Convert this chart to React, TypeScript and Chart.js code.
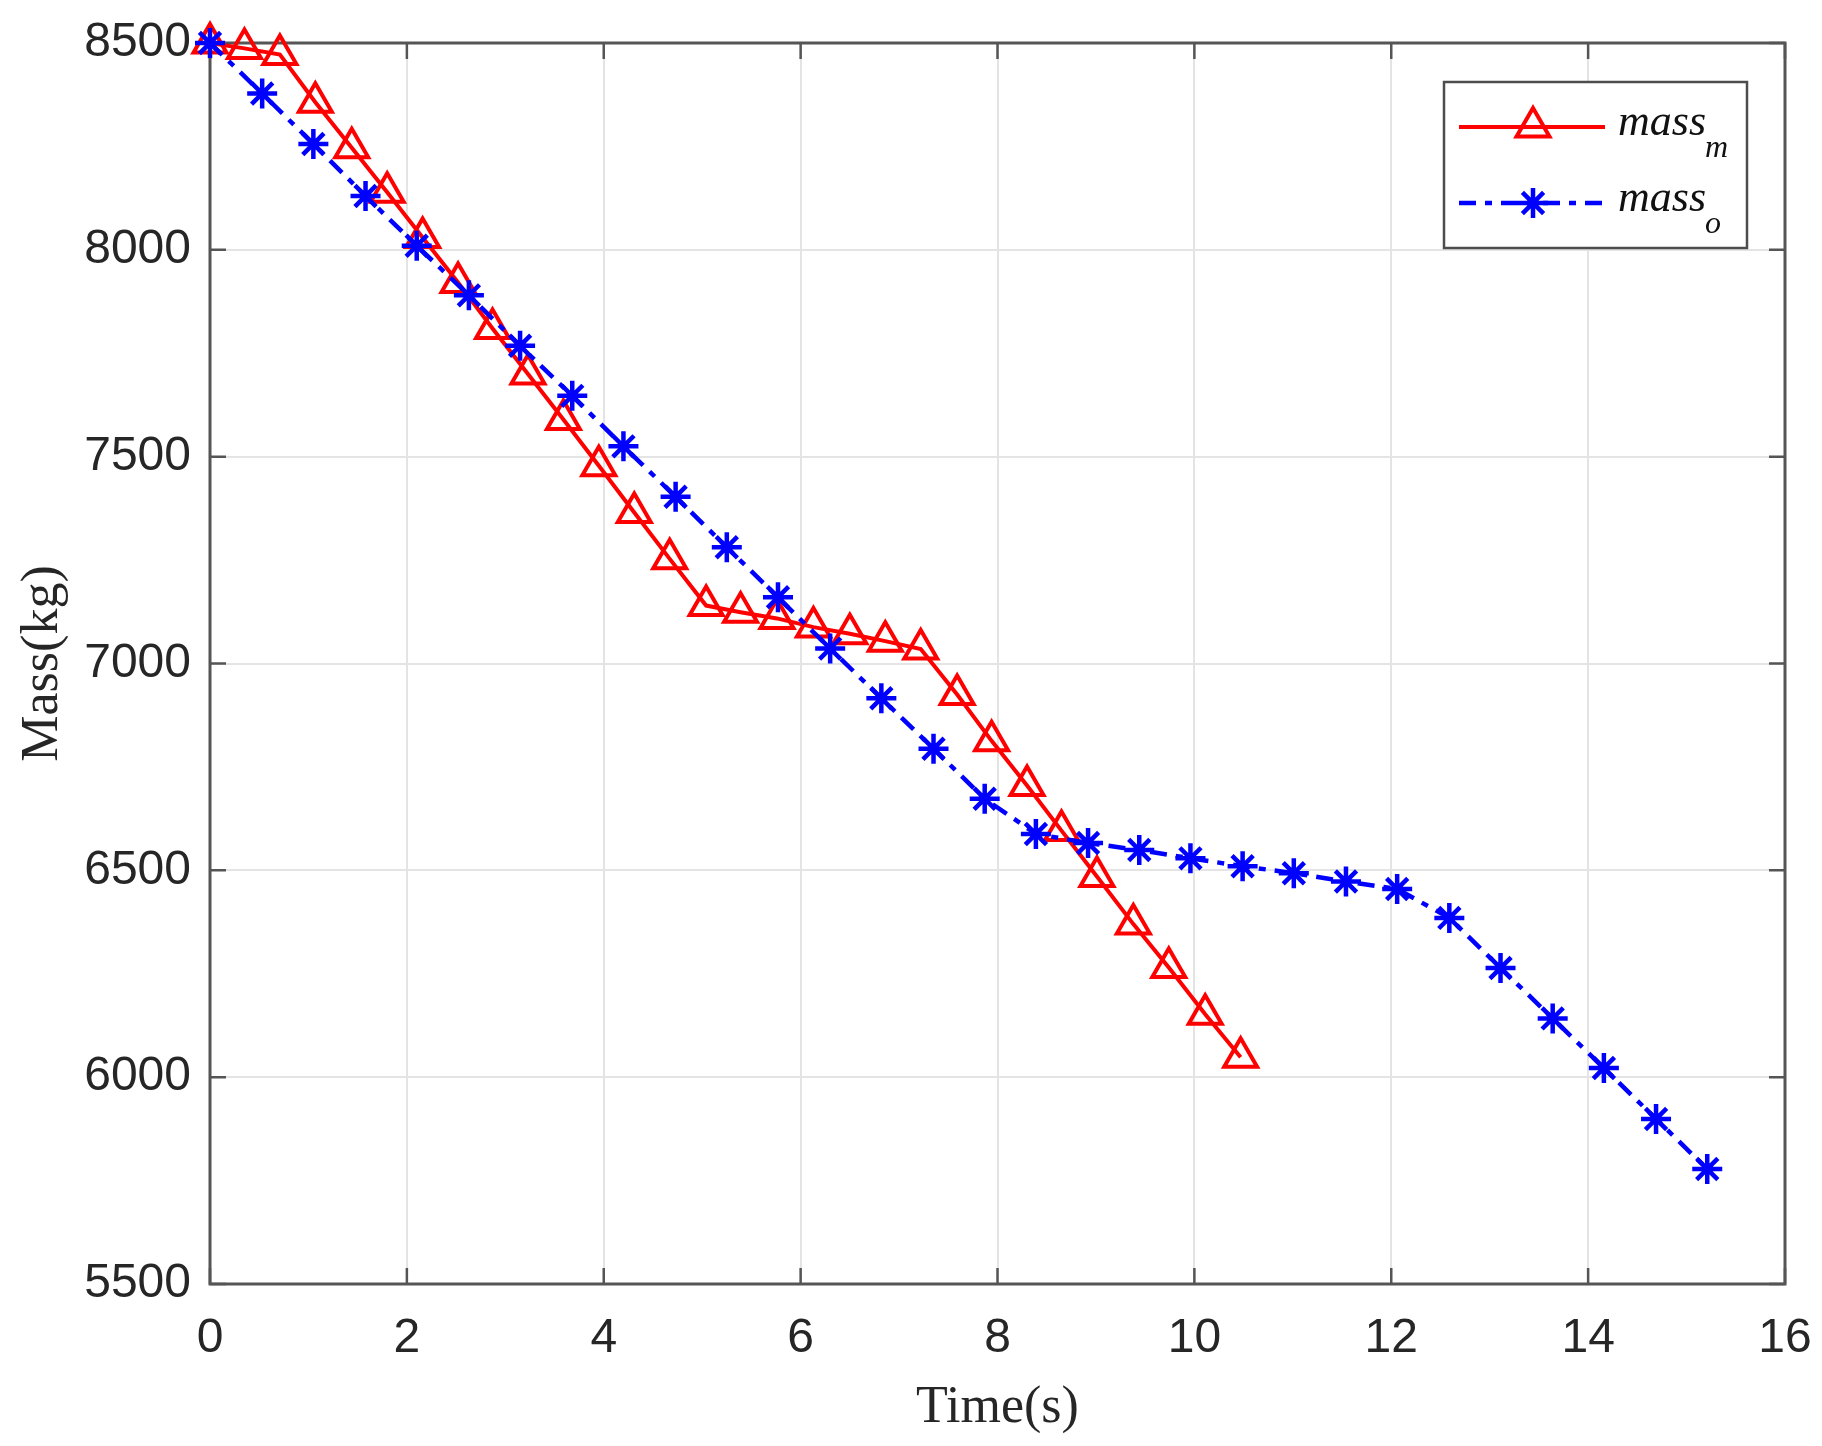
import React, { useEffect, useRef } from 'react';
import { Chart, registerables } from 'chart.js';
import { drawPoint } from 'chart.js/helpers';

Chart.register(...registerables);

// mass_m (red, triangles)
const massMTime = [0, 0.35, 0.71, 1.07, 1.44, 1.8, 2.16, 2.52, 2.87, 3.23, 3.59, 3.95, 4.31, 4.67, 5.04, 5.39, 5.76, 6.13, 6.5, 6.86, 7.22, 7.59, 7.94, 8.3, 8.65, 9.01, 9.38, 9.74, 10.11, 10.47];
const massM = [8500, 8487, 8472, 8357, 8247, 8139, 8030, 7921, 7810, 7700, 7590, 7478, 7365, 7253, 7140, 7124, 7109, 7088, 7072, 7054, 7035, 6925, 6813, 6705, 6596, 6485, 6370, 6265, 6152, 6048];

// mass_o (blue, asterisks)
const massOTime = [0, 0.53, 1.05, 1.58, 2.1, 2.63, 3.15, 3.68, 4.2, 4.73, 5.25, 5.77, 6.3, 6.82, 7.35, 7.87, 8.39, 8.92, 9.44, 9.96, 10.49, 11.01, 11.54, 12.06, 12.59, 13.11, 13.64, 14.16, 14.69, 15.21];
const massO = [8500, 8378, 8256, 8130, 8010, 7890, 7768, 7647, 7525, 7403, 7281, 7160, 7036, 6916, 6794, 6673, 6588, 6566, 6549, 6529, 6510, 6493, 6473, 6455, 6385, 6264, 6142, 6022, 5899, 5778];

const timeTicks = [0, 2, 4, 6, 8, 10, 12, 14, 16];
const massTicks = [5500, 6000, 6500, 7000, 7500, 8000, 8500];

const seriesNames = ['m', 'o'];

// MATLAB-like box with inward ticks
const framePlugin = {
  id: 'frame',
  beforeDatasetsDraw(chart: any) {
    const { ctx, chartArea: a, scales } = chart;
    const len = 16;
    ctx.save();
    ctx.strokeStyle = '#555555';
    ctx.lineWidth = 2.5;
    ctx.beginPath();
    timeTicks.forEach((t) => {
      const px = scales.x.getPixelForValue(t);
      ctx.moveTo(px, a.bottom);
      ctx.lineTo(px, a.bottom - len);
      ctx.moveTo(px, a.top);
      ctx.lineTo(px, a.top + len);
    });
    massTicks.forEach((v) => {
      const py = scales.y.getPixelForValue(v);
      ctx.moveTo(a.left, py);
      ctx.lineTo(a.left + len, py);
      ctx.moveTo(a.right, py);
      ctx.lineTo(a.right - len, py);
    });
    ctx.stroke();
    ctx.lineWidth = 3;
    ctx.strokeRect(a.left, a.top, a.right - a.left, a.bottom - a.top);
    ctx.restore();
  },
};

// legend with subscripts
const legendPlugin = {
  id: 'subLegend',
  afterDraw(chart: any) {
    const { ctx, chartArea: a } = chart;
    const left = a.right - 341;
    const top = a.top + 39;
    const w = 303;
    const h = 166;
    ctx.save();
    ctx.fillStyle = '#ffffff';
    ctx.fillRect(left, top, w, h);
    ctx.strokeStyle = '#4d4d4d';
    ctx.lineWidth = 2.5;
    ctx.strokeRect(left, top, w, h);

    chart.data.datasets.forEach((ds: any, i: number) => {
      const y = top + 45 + i * 76;
      ctx.save();
      ctx.strokeStyle = ds.borderColor;
      ctx.lineWidth = ds.borderWidth;
      ctx.setLineDash(ds.borderDash || []);
      ctx.beginPath();
      ctx.moveTo(left + 15, y);
      ctx.lineTo(left + 161, y);
      ctx.stroke();
      ctx.restore();
      ctx.save();
      ctx.strokeStyle = ds.pointBorderColor;
      ctx.fillStyle = 'rgba(0,0,0,0)';
      ctx.lineWidth = ds.pointBorderWidth;
      drawPoint(ctx, { pointStyle: ds.pointStyle, radius: ds.pointRadius, rotation: 0, borderWidth: ds.pointBorderWidth }, left + 89, y);
      ctx.restore();

      ctx.fillStyle = '#111111';
      ctx.textBaseline = 'alphabetic';
      ctx.textAlign = 'left';
      ctx.font = 'italic 44px "Liberation Serif", "Times New Roman", serif';
      ctx.fillText('mass', left + 174, y + 8);
      ctx.font = 'italic 32px "Liberation Serif", "Times New Roman", serif';
      ctx.fillText(seriesNames[i], left + 261, y + 30);
    });
    ctx.restore();
  },
};

const App = () => {
  const canvasRef = useRef<HTMLCanvasElement>(null);
  const chartRef = useRef<Chart | null>(null);

  useEffect(() => {
    document.body.style.margin = '0';
    if (!canvasRef.current) return;
    const ctx = canvasRef.current.getContext('2d');
    if (!ctx) return;
    if (chartRef.current) chartRef.current.destroy();

    const tickFont = { family: '"Liberation Sans", Arial, sans-serif', size: 48 };
    const titleFont = { family: '"Liberation Serif", "Times New Roman", serif', size: 52 };

    chartRef.current = new Chart(ctx, {
      type: 'line',
      data: {
        datasets: [
          {
            label: 'mass_m',
            data: massMTime.map((t, i) => ({ x: t, y: massM[i] })),
            borderColor: '#ff0000',
            borderWidth: 4,
            pointStyle: 'triangle',
            pointRadius: 19,
            pointBorderWidth: 4,
            pointBorderColor: '#ff0000',
            pointBackgroundColor: 'rgba(0,0,0,0)',
            fill: false,
            clip: false,
            order: 2,
          },
          {
            label: 'mass_o',
            data: massOTime.map((t, i) => ({ x: t, y: massO[i] })),
            borderColor: '#0000ff',
            borderWidth: 4.5,
            borderDash: [17, 9, 7, 9],
            pointStyle: 'star',
            pointRadius: 15,
            pointBorderWidth: 4.5,
            pointBorderColor: '#0000ff',
            pointBackgroundColor: '#0000ff',
            fill: false,
            clip: false,
            order: 1,
          },
        ] as any,
      },
      options: {
        animation: false,
        responsive: true,
        maintainAspectRatio: false,
        layout: { padding: { top: 43, right: 37, left: 0, bottom: 0 } },
        plugins: {
          legend: { display: false },
          tooltip: { enabled: false },
        },
        scales: {
          x: {
            type: 'linear',
            min: 0,
            max: 16,
            afterFit: (scale: any) => {
              scale.height = 162;
              scale.paddingLeft = 0;
              scale.paddingRight = 0;
            },
            ticks: { stepSize: 2, font: tickFont, color: '#262626', padding: 26, maxRotation: 0, callback: (v: any) => String(v) },
            grid: { color: '#e4e4e4', lineWidth: 2, drawTicks: false },
            border: { display: false },
            title: { display: true, text: 'Time(s)', font: titleFont, color: '#262626', padding: { top: 0, bottom: 6 } },
          },
          y: {
            type: 'linear',
            min: 5500,
            max: 8500,
            afterFit: (scale: any) => {
              scale.width = 210;
              scale.paddingTop = 0;
              scale.paddingBottom = 0;
            },
            ticks: { stepSize: 500, font: tickFont, color: '#262626', padding: 19, callback: (v: any) => String(v) },
            grid: { color: '#e4e4e4', lineWidth: 2, drawTicks: false },
            border: { display: false },
            title: { display: true, text: 'Mass(kg)', font: titleFont, color: '#262626', padding: { top: 12, bottom: 0 } },
          },
        },
      },
      plugins: [framePlugin, legendPlugin],
    });

    return () => {
      if (chartRef.current) {
        chartRef.current.destroy();
        chartRef.current = null;
      }
    };
  }, []);

  return (
    <div style={{ position: 'relative', width: '1822px', height: '1446px', background: '#ffffff' }}>
      <canvas ref={canvasRef}></canvas>
    </div>
  );
};

export default App;
